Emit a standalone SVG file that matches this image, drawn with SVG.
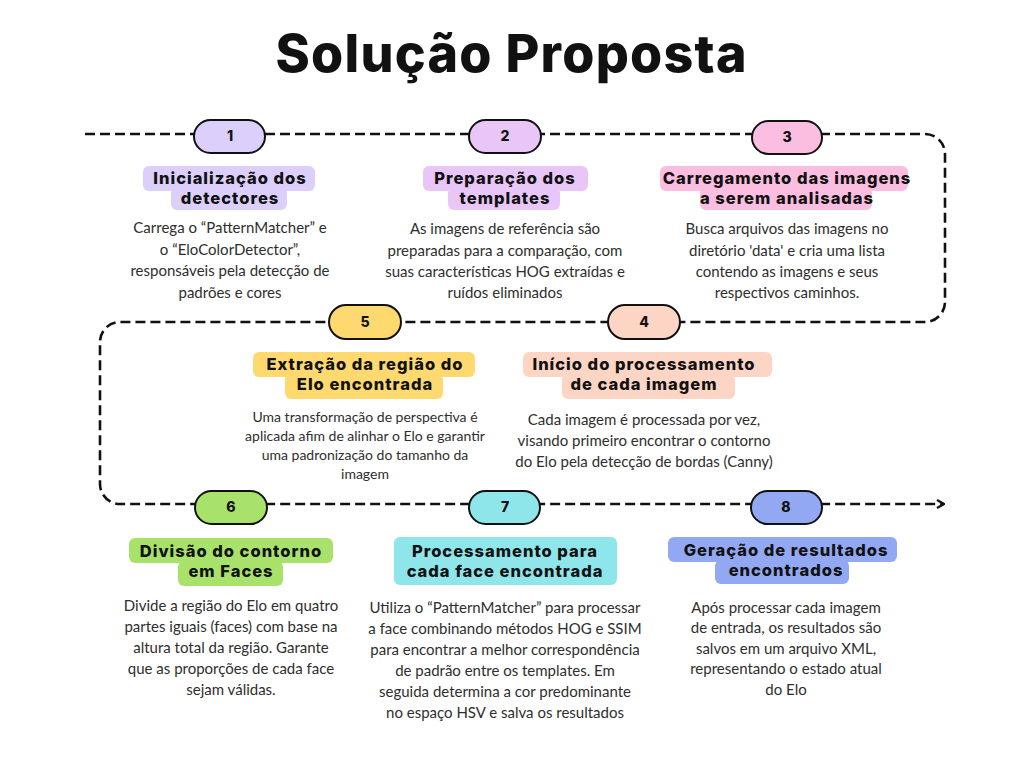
<svg xmlns="http://www.w3.org/2000/svg" width="1024" height="768" viewBox="0 0 1024 768">
<defs>
<style>
.title{font-family:Inter,"Liberation Sans",sans-serif;font-weight:800;font-size:52px;fill:#111;text-anchor:middle}
.pill{stroke:#111;stroke-width:2}
.num{font-family:Inter,"Liberation Sans",sans-serif;font-weight:800;font-size:14px;fill:#111;text-anchor:middle}
.head{font-family:Inter,"Liberation Sans",sans-serif;font-weight:800;font-size:16.5px;letter-spacing:1px;fill:#111;text-anchor:middle}
.body{font-family:Lato,"Liberation Sans",sans-serif;font-size:15px;fill:#2e2e2e;text-anchor:middle}
.small{font-size:14px}
.flow{fill:none;stroke:#111;stroke-width:2.6;stroke-dasharray:10 5}
.c1{fill:#dccffb}.c2{fill:#e9c6f8}.c3{fill:#fbbde0}.c4{fill:#fdd5c4}
.c5{fill:#fdd970}.c6{fill:#a9e26a}.c7{fill:#8ee5ea}.c8{fill:#93a8f2}
</style>
<marker id="arr" viewBox="0 0 10 10" refX="9" refY="5" markerWidth="10" markerHeight="10" markerUnits="userSpaceOnUse" orient="auto">
<path d="M2 1 L9 5 L2 9" fill="none" stroke="#111" stroke-width="2.2"/>
</marker>
</defs>
<rect width="1024" height="768" fill="#fff"/>
<text class="title" x="511" y="72" textLength="471" lengthAdjust="spacing">Solução Proposta</text>

<g id="connectors">
<path class="flow" marker-end="url(#arr)" d="M85 134 H925 A20 20 0 0 1 945 154 V302 A20 20 0 0 1 925 322 H120 A20 20 0 0 0 100 342 V484 A20 20 0 0 0 120 504 H944"/>
</g>

<g id="node1">
<rect class="pill c1" x="194" y="120" width="71" height="33" rx="16.5"/>
<text class="num" x="230" y="141">1</text>
<rect class="c1" x="143" y="166" width="172" height="25" rx="6"/>
<rect class="c1" x="171" y="187" width="116" height="23" rx="6"/>
<text class="head" x="230" y="184">Inicialização dos</text>
<text class="head" x="230" y="204">detectores</text>
<text class="body" x="230" y="233">Carrega o “PatternMatcher” e</text>
<text class="body" x="230" y="255">o “EloColorDetector”,</text>
<text class="body" x="230" y="276">responsáveis pela detecção de</text>
<text class="body" x="230" y="298">padrões e cores</text>
</g>

<g id="node2">
<rect class="pill c2" x="469" y="120" width="72" height="33" rx="16.5"/>
<text class="num" x="505" y="141">2</text>
<rect class="c2" x="423" y="166" width="165" height="25" rx="6"/>
<rect class="c2" x="448" y="187" width="112" height="23" rx="6"/>
<text class="head" x="505" y="184">Preparação dos</text>
<text class="head" x="505" y="204">templates</text>
<text class="body" x="505" y="234">As imagens de referência são</text>
<text class="body" x="505" y="256">preparadas para a comparação, com</text>
<text class="body" x="505" y="277">suas características HOG extraídas e</text>
<text class="body" x="505" y="298">ruídos eliminados</text>
</g>

<g id="node3">
<rect class="pill c3" x="752" y="121" width="70" height="33" rx="16.5"/>
<text class="num" x="787" y="142">3</text>
<rect class="c3" x="660" y="166" width="248" height="25" rx="6"/>
<rect class="c3" x="700" y="187" width="172" height="23" rx="6"/>
<text class="head" x="787" y="184">Carregamento das imagens</text>
<text class="head" x="787" y="204">a serem analisadas</text>
<text class="body" x="787" y="234">Busca arquivos das imagens no</text>
<text class="body" x="787" y="256">diretório 'data' e cria uma lista</text>
<text class="body" x="787" y="277">contendo as imagens e seus</text>
<text class="body" x="787" y="298">respectivos caminhos.</text>
</g>

<g id="node4">
<rect class="pill c4" x="608" y="305" width="72" height="34" rx="17"/>
<text class="num" x="644" y="327">4</text>
<rect class="c4" x="523" y="352" width="249" height="25" rx="6"/>
<rect class="c4" x="562" y="374" width="173" height="25" rx="6"/>
<text class="head" x="644" y="370">Início do processamento</text>
<text class="head" x="644" y="390">de cada imagem</text>
<text class="body" x="644" y="425">Cada imagem é processada por vez,</text>
<text class="body" x="644" y="446">visando primeiro encontrar o contorno</text>
<text class="body" x="644" y="467">do Elo pela detecção de bordas (Canny)</text>
</g>

<g id="node5">
<rect class="pill c5" x="329" y="305" width="72" height="34" rx="17"/>
<text class="num" x="365" y="327">5</text>
<rect class="c5" x="253" y="352" width="222" height="25" rx="6"/>
<rect class="c5" x="285" y="374" width="158" height="25" rx="6"/>
<text class="head" x="365" y="370">Extração da região do</text>
<text class="head" x="365" y="390">Elo encontrada</text>
<text class="body small" x="365" y="422">Uma transformação de perspectiva é</text>
<text class="body small" x="365" y="441">aplicada afim de alinhar o Elo e garantir</text>
<text class="body small" x="365" y="460">uma padronização do tamanho da</text>
<text class="body small" x="365" y="479">imagem</text>
</g>

<g id="node6">
<rect class="pill c6" x="195" y="491" width="72" height="33" rx="16.5"/>
<text class="num" x="231" y="512">6</text>
<rect class="c6" x="129" y="538" width="204" height="25" rx="6"/>
<rect class="c6" x="178" y="561" width="105" height="25" rx="6"/>
<text class="head" x="231" y="557">Divisão do contorno</text>
<text class="head" x="231" y="577">em Faces</text>
<text class="body" x="231" y="611">Divide a região do Elo em quatro</text>
<text class="body" x="231" y="632">partes iguais (faces) com base na</text>
<text class="body" x="231" y="653">altura total da região. Garante</text>
<text class="body" x="231" y="674">que as proporções de cada face</text>
<text class="body" x="231" y="695">sejam válidas.</text>
</g>

<g id="node7">
<rect class="pill c7" x="469" y="491" width="71" height="33" rx="16.5"/>
<text class="num" x="505" y="512">7</text>
<rect class="c7" x="394" y="537" width="223" height="48" rx="6"/>
<text class="head" x="505" y="557">Processamento para</text>
<text class="head" x="505" y="577">cada face encontrada</text>
<text class="body" x="505" y="613">Utiliza o “PatternMatcher” para processar</text>
<text class="body" x="505" y="634">a face combinando métodos HOG e SSIM</text>
<text class="body" x="505" y="655">para encontrar a melhor correspondência</text>
<text class="body" x="505" y="676">de padrão entre os templates. Em</text>
<text class="body" x="505" y="697">seguida determina a cor predominante</text>
<text class="body" x="505" y="718">no espaço HSV e salva os resultados</text>
</g>

<g id="node8">
<rect class="pill c8" x="751" y="491" width="71" height="33" rx="16.5"/>
<text class="num" x="786" y="512">8</text>
<rect class="c8" x="668" y="537" width="229" height="25" rx="6"/>
<rect class="c8" x="715" y="560" width="134" height="24" rx="6"/>
<text class="head" x="786" y="556">Geração de resultados</text>
<text class="head" x="786" y="576">encontrados</text>
<text class="body" x="786" y="613">Após processar cada imagem</text>
<text class="body" x="786" y="633">de entrada, os resultados são</text>
<text class="body" x="786" y="654">salvos em um arquivo XML,</text>
<text class="body" x="786" y="674">representando o estado atual</text>
<text class="body" x="786" y="695">do Elo</text>
</g>
</svg>
